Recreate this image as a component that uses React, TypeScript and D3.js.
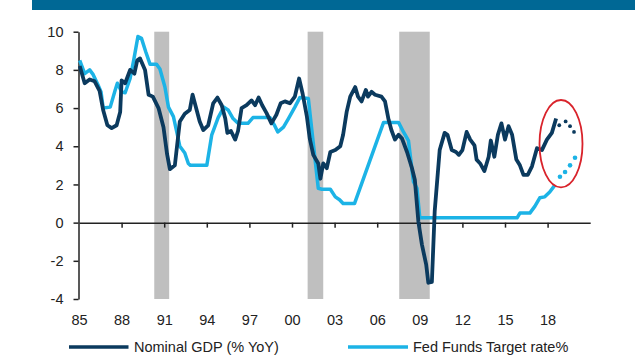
import React, { useEffect, useRef } from "react";
import * as d3 from "d3";

// Nominal GDP (% YoY): [decimal year, value]
const nominalGdp: [number, number][] = [
  [1985.05, 8.2], [1985.4, 7.3], [1985.75, 7.5], [1986.1, 7.4], [1986.45, 6.9], [1986.7, 5.9],
  [1987.0, 5.1], [1987.3, 4.95], [1987.65, 5.1], [1987.9, 5.8], [1988.0, 7.45], [1988.25, 7.3],
  [1988.6, 8.0], [1988.9, 7.8], [1989.1, 8.5], [1989.3, 8.6], [1989.65, 8.0], [1989.9, 6.7],
  [1990.2, 6.6], [1990.6, 6.0], [1990.95, 5.0], [1991.2, 3.6], [1991.4, 2.8], [1991.75, 3.0],
  [1992.1, 5.3], [1992.45, 5.7], [1992.8, 5.9], [1993.0, 6.7], [1993.5, 5.3], [1993.75, 4.85],
  [1994.1, 5.1], [1994.45, 6.25], [1994.75, 6.55], [1995.05, 6.15], [1995.3, 5.45], [1995.45, 4.7],
  [1995.7, 4.8], [1996.0, 4.35], [1996.2, 4.8], [1996.45, 6.0], [1996.8, 6.15], [1997.15, 6.4],
  [1997.4, 6.15], [1997.65, 6.55], [1997.9, 6.15], [1998.2, 5.75], [1998.55, 5.2], [1998.9, 5.65],
  [1999.2, 6.25], [1999.5, 6.35], [1999.85, 6.25], [2000.2, 6.6], [2000.5, 7.55], [2000.75, 6.75],
  [2001.05, 5.55], [2001.25, 4.4], [2001.5, 3.55], [2001.85, 3.1], [2002.0, 2.3], [2002.2, 3.1],
  [2002.45, 2.85], [2002.7, 3.7], [2003.05, 3.8], [2003.4, 4.0], [2003.6, 4.6], [2003.85, 5.8],
  [2004.1, 6.6], [2004.45, 7.1], [2004.65, 6.6], [2004.9, 6.35], [2005.2, 6.95], [2005.35, 6.6],
  [2005.6, 6.85], [2005.85, 6.7], [2006.3, 6.6], [2006.55, 6.35], [2006.8, 5.4], [2007.0, 4.85],
  [2007.25, 4.35], [2007.5, 4.6], [2007.75, 4.4], [2008.1, 3.7], [2008.45, 2.85], [2008.65, 2.25],
  [2008.9, 0.05], [2009.15, -1.15], [2009.45, -2.2], [2009.6, -3.15], [2009.85, -3.1], [2010.05, 0.6],
  [2010.4, 3.8], [2010.75, 4.7], [2010.95, 4.6], [2011.25, 3.8], [2011.55, 3.7], [2011.75, 3.55],
  [2012.0, 3.8], [2012.3, 4.75], [2012.55, 4.35], [2012.85, 4.05], [2013.0, 3.3], [2013.25, 3.1],
  [2013.55, 2.7], [2013.85, 3.45], [2014.0, 4.3], [2014.25, 3.45], [2014.5, 4.6], [2014.75, 5.2],
  [2015.0, 4.35], [2015.25, 5.05], [2015.5, 4.6], [2015.8, 3.3], [2016.05, 3.0], [2016.3, 2.5],
  [2016.6, 2.5], [2016.9, 2.95], [2017.25, 3.9], [2017.6, 3.8], [2017.95, 4.35], [2018.3, 4.7],
  [2018.6, 5.45],
];

const nominalGdpForecast: [number, number][] = [
  [2018.82, 5.1], [2019.27, 5.3], [2019.58, 5.05], [2019.86, 4.75],
];

// Fed Funds Target rate %
const fedFunds: [number, number][] = [
  [1985.05, 8.5], [1985.4, 7.8], [1985.75, 8.0], [1986.0, 7.75], [1986.35, 7.2], [1986.55, 6.85],
  [1986.7, 6.0], [1987.2, 6.05], [1987.55, 6.95], [1987.7, 7.3], [1988.0, 6.85], [1988.25, 6.8],
  [1988.6, 7.55], [1988.85, 8.5], [1989.15, 9.75], [1989.4, 9.65], [1989.7, 8.95], [1990.0, 8.3],
  [1990.45, 8.3], [1990.7, 8.05], [1991.05, 7.1], [1991.3, 6.05], [1991.65, 5.55], [1991.9, 4.7],
  [1992.1, 4.0], [1992.45, 3.65], [1992.7, 3.1], [1992.85, 3.0], [1994.0, 3.0], [1994.35, 4.6],
  [1994.8, 5.5], [1995.2, 6.05], [1995.5, 5.9], [1995.85, 5.45], [1996.2, 5.2], [1996.9, 5.2],
  [1997.25, 5.5], [1998.45, 5.5], [1998.8, 5.05], [1999.0, 4.75], [1999.4, 5.0], [1999.75, 5.45],
  [2000.2, 6.05], [2000.55, 6.55], [2001.15, 6.5], [2001.85, 1.8], [2002.1, 1.75], [2002.7, 1.75],
  [2003.05, 1.35], [2003.35, 1.2], [2003.6, 1.0], [2004.4, 1.0], [2006.45, 5.25], [2007.5, 5.25],
  [2007.85, 4.75], [2008.2, 4.3], [2008.55, 2.15], [2008.8, 1.8], [2009.0, 0.25], [2015.85, 0.25],
  [2016.05, 0.5], [2016.75, 0.5], [2017.1, 0.85], [2017.45, 1.3], [2017.8, 1.35], [2018.15, 1.6],
  [2018.5, 1.95],
];

const fedFundsForecast: [number, number][] = [
  [2018.87, 2.4], [2019.23, 2.65], [2019.58, 3.0], [2019.93, 3.4],
];

const recessions: [number, number][] = [
  [1990.3, 1991.35], [2001.1, 2002.2], [2007.55, 2009.7],
];

const xTickYears = [1985, 1988, 1991, 1994, 1997, 2000, 2003, 2006, 2009, 2012, 2015, 2018];
const yTicks = [-4, -2, 0, 2, 4, 6, 8, 10];
const legendLabels = ["Nominal GDP (% YoY)", "Fed Funds Target rate%"];

const DARK = "#0b3a5e";
const LIGHT = "#1cb3e6";
const FONT = "'Liberation Sans', Arial, sans-serif";

export default function App() {
  const ref = useRef<SVGSVGElement>(null);

  useEffect(() => {
    const svg = d3.select(ref.current);
    svg.selectAll("*").remove();

    const x = d3.scaleLinear().domain([1985, 2021]).range([79, 590.2]);
    const y = d3.scaleLinear().domain([-4, 10]).range([299, 31.7]);

    // top banner
    svg.append("rect").attr("x", 32).attr("y", 0).attr("width", 603).attr("height", 10).attr("fill", "#006895");

    // recession bars
    svg.append("g").selectAll("rect").data(recessions).join("rect")
      .attr("x", d => x(d[0])).attr("width", d => x(d[1]) - x(d[0]))
      .attr("y", y(10)).attr("height", y(-4) - y(10)).attr("fill", "#bfbfbf");

    // y axis
    const yAxis = svg.append("g").attr("transform", "translate(78.5,0)")
      .call(d3.axisLeft(y).tickValues(yTicks).tickSize(5).tickSizeOuter(0).tickPadding(10).tickFormat((d: any) => String(d)));
    yAxis.select(".domain").attr("stroke", "#222").attr("stroke-width", 1.5);
    yAxis.selectAll(".tick line").attr("stroke", "#222").attr("stroke-width", 1.5);
    yAxis.selectAll("text").attr("font-family", FONT).attr("font-size", 14.5).attr("fill", "#222");

    // x axis line at zero with ticks
    const xAxis = svg.append("g").attr("transform", `translate(0,${y(0)})`)
      .call(d3.axisBottom(x).tickValues(xTickYears.concat([2021])).tickSize(5).tickSizeOuter(0).tickFormat(() => ""));
    xAxis.select(".domain").attr("stroke", "#222").attr("stroke-width", 1.5);
    xAxis.selectAll(".tick line").attr("stroke", "#222").attr("stroke-width", 1.5);
    xAxis.selectAll(".tick").filter((d: any) => d === 1985 || d === 2021).remove();

    // x labels at bottom
    const xLabels = svg.append("g").attr("transform", "translate(0,309)")
      .call(d3.axisBottom(x).tickValues(xTickYears).tickSize(0).tickPadding(6)
        .tickFormat((d: any) => String(d % 100).padStart(2, "0")));
    xLabels.select(".domain").remove();
    xLabels.selectAll("text").attr("font-family", FONT).attr("font-size", 14.5).attr("fill", "#222");

    const line = d3.line<[number, number]>().x(d => x(d[0])).y(d => y(d[1])).curve(d3.curveLinear);

    svg.append("path").datum(fedFunds).attr("d", line).attr("fill", "none")
      .attr("stroke", LIGHT).attr("stroke-width", 3.5).attr("stroke-linejoin", "round");
    svg.append("path").datum(nominalGdp).attr("d", line).attr("fill", "none")
      .attr("stroke", DARK).attr("stroke-width", 3.8).attr("stroke-linejoin", "round");

    svg.append("g").selectAll("circle").data(fedFundsForecast).join("circle")
      .attr("cx", d => x(d[0])).attr("cy", d => y(d[1])).attr("r", 2.3).attr("fill", LIGHT);
    svg.append("g").selectAll("circle").data(nominalGdpForecast).join("circle")
      .attr("cx", d => x(d[0])).attr("cy", d => y(d[1])).attr("r", 1.9).attr("fill", DARK);

    // red ellipse
    svg.append("ellipse").attr("cx", 561).attr("cy", 143.7).attr("rx", 21.5).attr("ry", 43.7)
      .attr("fill", "none").attr("stroke", "#d9232b").attr("stroke-width", 1.8);

    // legend
    const legend = svg.append("g");
    const items = [
      { label: legendLabels[0], color: DARK, x0: 69, x1: 128.5, tx: 134 },
      { label: legendLabels[1], color: LIGHT, x0: 348, x1: 408, tx: 413 },
    ];
    items.forEach(it => {
      legend.append("line").attr("x1", it.x0).attr("x2", it.x1).attr("y1", 347).attr("y2", 347)
        .attr("stroke", it.color).attr("stroke-width", 3.5);
      legend.append("text").attr("x", it.tx).attr("y", 352).text(it.label)
        .attr("font-family", FONT).attr("font-size", 14.5).attr("fill", "#222");
    });
  }, []);

  return (
    <svg ref={ref} width={640} height={360} style={{ position: "absolute", left: 0, top: 0, background: "#fff" }} />
  );
}
